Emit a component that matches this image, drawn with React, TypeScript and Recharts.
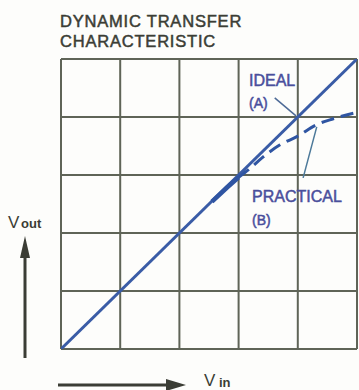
import React from 'react';
import { ComposedChart, Line, XAxis, YAxis, CartesianGrid, ReferenceLine } from 'recharts';

const gridTicks = [0, 1, 2, 3, 4, 5];
const idealX = [0, 5];
const idealY = [0, 5];
const practicalSolidX = [2.55, 2.8, 3.0];
const practicalSolidY = [2.54, 2.78, 2.96];
const practicalDashX = [3.0, 3.2, 3.4, 3.7, 4.0, 4.3, 4.6, 5.0];
const practicalDashY = [2.96, 3.12, 3.3, 3.52, 3.67, 3.86, 3.97, 4.08];
const leaderA = [{ x: 3.61, y: 4.33 }, { x: 3.97, y: 4.02 }];
const leaderB = [{ x: 4.09, y: 2.95 }, { x: 4.32, y: 3.83 }];
const titleLines = ['DYNAMIC TRANSFER', 'CHARACTERISTIC'];
const idealLabel = ['IDEAL', '(A)'];
const practicalLabel = ['PRACTICAL', '(B)'];

const toPts = (xs: number[], ys: number[]) => xs.map((x, i) => ({ x, y: ys[i] }));
const idealData = toPts(idealX, idealY);
const practicalSolid = toPts(practicalSolidX, practicalSolidY);
const practicalDash = toPts(practicalDashX, practicalDashY);

const GRID = '#5f6457';
const BLUE = '#3a5ca6';
const LABEL = '#4a4f9c';
const INK = '#3b3d35';
const font = '"Liberation Sans", Arial, sans-serif';

export default function App() {
  return (
    <div style={{ position: 'absolute', left: 0, top: 0, width: 359, height: 390, background: '#fdfdfb' }}>
      <ComposedChart width={359} height={390} margin={{ top: 59, right: 2, bottom: 41, left: 61 }}>
        <XAxis type="number" dataKey="x" domain={[0, 5]} ticks={gridTicks} hide allowDataOverflow />
        <YAxis type="number" dataKey="y" domain={[0, 5]} ticks={gridTicks} hide allowDataOverflow />
        <CartesianGrid stroke={GRID} strokeWidth={2} />
        <Line data={idealData} dataKey="y" type="linear" stroke={BLUE} strokeWidth={3} dot={false} isAnimationActive={false} />
        <Line data={practicalSolid} dataKey="y" type="linear" stroke="#2f55a2" strokeWidth={4.5} dot={false} isAnimationActive={false} />
        <Line data={practicalDash} dataKey="y" type="monotone" stroke="#2f55a2" strokeWidth={3} strokeDasharray="13 7" dot={false} isAnimationActive={false} />
        <ReferenceLine segment={leaderA} stroke="#4d6a96" strokeWidth={1.5} />
        <ReferenceLine segment={leaderB} stroke="#4d7a9a" strokeWidth={1.5} />
      </ComposedChart>
      <svg width={359} height={390} style={{ position: 'absolute', left: 0, top: 0, pointerEvents: 'none' }}>
        <g fontFamily={font} fill={INK} stroke={INK} strokeWidth={0.5} fontSize={16.5}>
          <text x={60} y={27} letterSpacing={0.8}>{titleLines[0]}</text>
          <text x={60} y={47} letterSpacing={0.8}>{titleLines[1]}</text>
        </g>
        <g fontFamily={font} fill={LABEL} stroke={LABEL} strokeWidth={0.5} fontSize={16}>
          <text x={249} y={86}>{idealLabel[0]}</text>
          <text x={249} y={108} fontSize={14}>{idealLabel[1]}</text>
          <text x={252} y={202}>{practicalLabel[0]}</text>
          <text x={252} y={225} fontSize={14}>{practicalLabel[1]}</text>
        </g>
        <g fontFamily={font} fill={INK}>
          <text x={8} y={228} fontSize={17}>V</text>
          <text x={21} y={228} fontSize={13} fontWeight="bold">out</text>
          <text x={204} y={386} fontSize={17}>V</text>
          <text x={219} y={387} fontSize={13} fontWeight="bold">in</text>
        </g>
        <line x1={25} y1={250} x2={25} y2={358} stroke={INK} strokeWidth={3} />
        <polygon points="25,236 20,258 30,258" fill={INK} />
        <line x1={58} y1={385} x2={170} y2={385} stroke={INK} strokeWidth={3} />
        <polygon points="186,385 166,379 166,391" fill={INK} />
      </svg>
    </div>
  );
}
